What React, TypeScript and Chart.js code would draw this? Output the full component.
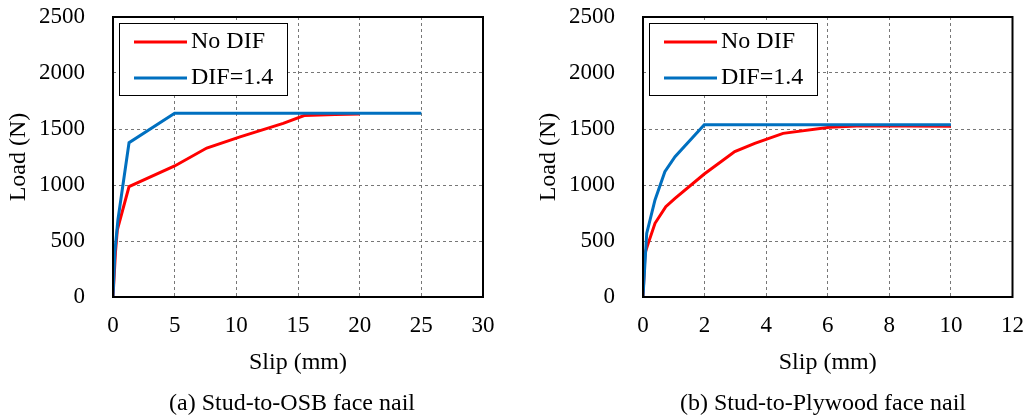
import React, { useEffect, useRef } from "react";
import { Chart, registerables } from "chart.js";

Chart.register(...registerables);

const seriesLabels = ["No DIF", "DIF=1.4"];
const seriesColors = ["#FF0000", "#0070C0"];
const yTickMax = 2500;
const yTickStep = 500;

const osbNoDifX = [0, 0.2, 0.35, 1.3, 5, 7.6, 10.3, 13.8, 15.5, 18, 20];
const osbNoDifY = [0, 400, 600, 985, 1170, 1330, 1430, 1550, 1620, 1630, 1635];
const osbDifX = [0, 0.15, 0.4, 1.3, 5, 25];
const osbDifY = [0, 400, 690, 1378, 1640, 1640];

const plyNoDifX = [0, 0.065, 0.17, 0.39, 0.74, 1.04, 1.99, 2.98, 3.63, 4.55, 6.06, 7.1, 10];
const plyNoDifY = [0, 390, 479, 658, 807, 881, 1098, 1298, 1372, 1461, 1515, 1530, 1525];
const plyDifX = [0, 0.12, 0.39, 0.71, 1.04, 1.99, 10];
const plyDifY = [0, 568, 866, 1119, 1253, 1538, 1538];

const FONT = "'Liberation Serif', 'Times New Roman', serif";

const toPoints = (xs: number[], ys: number[]) => xs.map((x, i) => ({ x, y: ys[i] }));

const boxAndLegend = {
  id: "boxAndLegend",
  afterDraw(chart: any) {
    const { ctx, chartArea } = chart;
    const { left, top, right, bottom } = chartArea;
    ctx.save();
    const lx = left + 6;
    const ly = top + 6;
    const lw = 168;
    const lh = 72;
    ctx.fillStyle = "#ffffff";
    ctx.fillRect(lx, ly, lw, lh);
    ctx.strokeStyle = "#000000";
    ctx.lineWidth = 1;
    ctx.strokeRect(lx + 0.5, ly + 0.5, lw, lh);
    chart.data.datasets.forEach((ds: any, i: number) => {
      const cy = ly + 19 + i * 36;
      ctx.strokeStyle = ds.borderColor;
      ctx.lineWidth = 3;
      ctx.beginPath();
      ctx.moveTo(lx + 15, cy);
      ctx.lineTo(lx + 68, cy);
      ctx.stroke();
      ctx.fillStyle = "#000000";
      ctx.font = `24px ${FONT}`;
      ctx.textBaseline = "middle";
      ctx.textAlign = "left";
      ctx.fillText(ds.label, lx + 72, cy);
    });
    ctx.strokeStyle = "#000000";
    ctx.lineWidth = 2;
    ctx.strokeRect(left, top, right - left, bottom - top);
    ctx.restore();
  },
};

function makeConfig(series: { x: number[]; y: number[] }[], xMax: number, xStep: number, rightPad: number) {
  return {
    type: "line" as const,
    data: {
      datasets: series.map((s, i) => ({
        label: seriesLabels[i],
        data: toPoints(s.x, s.y),
        borderColor: seriesColors[i],
        backgroundColor: seriesColors[i],
        borderWidth: 3,
        pointRadius: 0,
        tension: 0,
        fill: false,
        order: 1 - i,
      })),
    },
    options: {
      responsive: false,
      animation: false as const,
      layout: { padding: { top: 17, right: rightPad, left: 0, bottom: 0 } },
      plugins: { legend: { display: false }, tooltip: { enabled: false } },
      scales: {
        x: {
          type: "linear" as const,
          min: 0,
          max: xMax,
          ticks: {
            stepSize: xStep,
            padding: 0,
            color: "#000",
            font: { family: FONT, size: 23 },
            callback: (v: any) => String(v),
          },
          grid: { color: "#777", lineWidth: 1, drawTicks: true, tickLength: 15, tickColor: "rgba(0,0,0,0)" },
          border: { display: false, dash: [3, 3] },
          title: {
            display: true,
            text: "Slip (mm)",
            color: "#000",
            font: { family: FONT, size: 24 },
            padding: { top: 0, bottom: 41 },
          },
          afterFit(scale: any) {
            scale.height = 121;
          },
        },
        y: {
          type: "linear" as const,
          min: 0,
          max: yTickMax,
          ticks: {
            stepSize: yTickStep,
            padding: 0,
            color: "#000",
            font: { family: FONT, size: 23 },
            callback: (v: any) => String(v),
          },
          grid: { color: "#777", lineWidth: 1, drawTicks: true, tickLength: 28, tickColor: "rgba(0,0,0,0)" },
          border: { display: false, dash: [3, 3] },
          title: {
            display: true,
            text: "Load (N)",
            color: "#000",
            font: { family: FONT, size: 24 },
            padding: { top: 4, bottom: 0 },
          },
          afterFit(scale: any) {
            scale.width = 113;
          },
        },
      },
    },
    plugins: [boxAndLegend],
  };
}

function Panel(props: { left: number; width: number; config: any; caption: string; captionX: number }) {
  const ref = useRef<HTMLCanvasElement | null>(null);
  useEffect(() => {
    if (!ref.current) return;
    const chart = new Chart(ref.current, props.config);
    return () => chart.destroy();
  }, []);
  return (
    <>
      <canvas
        ref={ref}
        width={props.width}
        height={418}
        style={{ position: "absolute", left: props.left, top: 0, width: props.width, height: 418 }}
      />
      <div
        style={{
          position: "absolute",
          left: props.captionX - 200,
          width: 400,
          top: 388,
          textAlign: "center",
          fontFamily: FONT,
          fontSize: 24,
          lineHeight: "28px",
          color: "#000",
        }}
      >
        {props.caption}
      </div>
    </>
  );
}

export default function App() {
  const leftCfg = makeConfig(
    [
      { x: osbNoDifX, y: osbNoDifY },
      { x: osbDifX, y: osbDifY },
    ],
    30,
    5,
    17
  );
  const rightCfg = makeConfig(
    [
      { x: plyNoDifX, y: plyNoDifY },
      { x: plyDifX, y: plyDifY },
    ],
    12,
    2,
    11
  );
  return (
    <div style={{ position: "fixed", left: 0, top: 0, width: 1024, height: 418, background: "#fff", overflow: "hidden" }}>
      <Panel left={0} width={500} config={leftCfg} caption="(a) Stud-to-OSB face nail" captionX={292} />
      <Panel left={530} width={494} config={rightCfg} caption="(b) Stud-to-Plywood face nail" captionX={823} />
    </div>
  );
}
